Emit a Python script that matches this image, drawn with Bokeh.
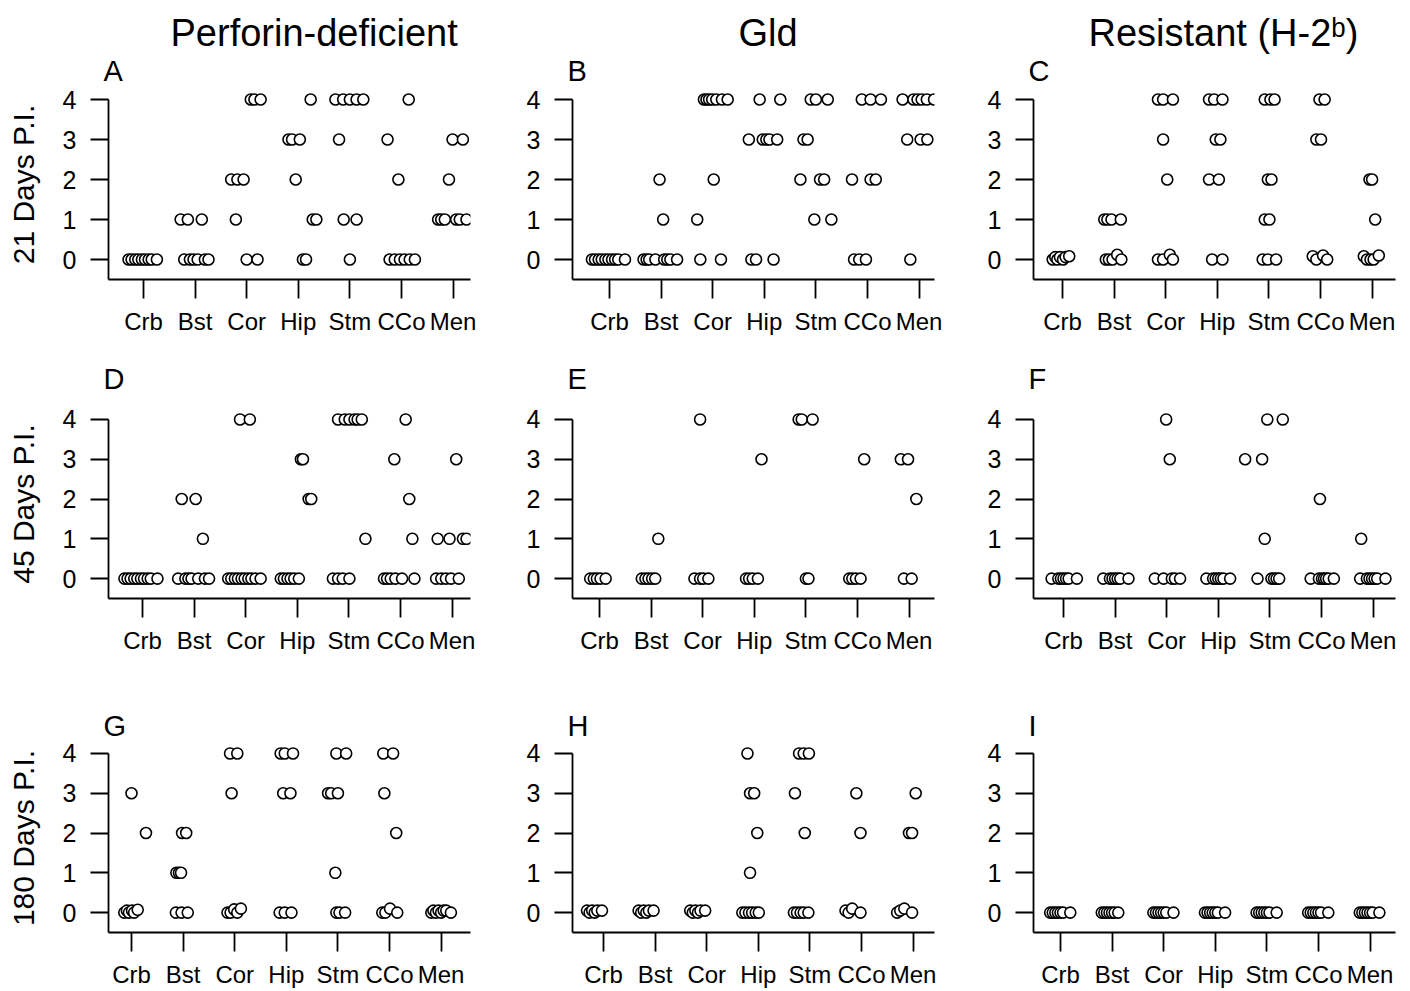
import math
from bokeh.plotting import figure
from bokeh.layouts import column, row
from bokeh.models import Title, FixedTicker, ColumnDataSource, Range1d
from bokeh.embed import file_html
from bokeh.resources import INLINE

FONT = "Liberation Sans"

# ---------------- data ----------------
ORGANS = ["Crb", "Bst", "Cor", "Hip", "Stm", "CCo", "Men"]
SCORE_TICKS = [0, 1, 2, 3, 4]
STRAINS = ["Perforin-deficient", "Gld", "Resistant (H-2\u1d47)"]
DAYS = ["21 Days P.I.", "45 Days P.I.", "180 Days P.I."]
LETTERS = ["A", "B", "C", "D", "E", "F", "G", "H", "I"]

# each entry: (organ, score, x-jitter of each animal [, y-jitter of each animal])
A = [
    ("Crb", 0, [-0.29, -0.23, -0.16, -0.10, -0.03, 0.03, 0.10, 0.16, 0.26]),
    ("Bst", 1, [-0.28, -0.14, 0.13]),
    ("Bst", 0, [-0.21, -0.10, -0.03, 0.05, 0.19, 0.26]),
    ("Cor", 4, [0.08, 0.15, 0.27]),
    ("Cor", 2, [-0.30, -0.18, -0.06]),
    ("Cor", 1, [-0.21]),
    ("Cor", 0, [0.0, 0.21]),
    ("Hip", 4, [0.24]),
    ("Hip", 3, [-0.19, -0.12, 0.03]),
    ("Hip", 2, [-0.05]),
    ("Hip", 1, [0.28, 0.35]),
    ("Hip", 0, [0.09, 0.15]),
    ("Stm", 4, [-0.28, -0.13, 0.0, 0.13, 0.26]),
    ("Stm", 3, [-0.21]),
    ("Stm", 1, [-0.12, 0.13]),
    ("Stm", 0, [0.0]),
    ("CCo", 4, [0.14]),
    ("CCo", 3, [-0.27]),
    ("CCo", 2, [-0.06]),
    ("CCo", 0, [-0.23, -0.13, -0.03, 0.06, 0.16, 0.26]),
    ("Men", 3, [-0.01, 0.19]),
    ("Men", 2, [-0.08]),
    ("Men", 1, [-0.29, -0.23, -0.16, 0.06, 0.13, 0.26]),
]
B = [
    ("Crb", 0, [-0.34, -0.28, -0.21, -0.15, -0.08, -0.02, 0.05, 0.11, 0.17, 0.30]),
    ("Bst", 2, [-0.03]),
    ("Bst", 1, [0.04]),
    ("Bst", 0, [-0.34, -0.28, -0.23, -0.11, 0.06, 0.12, 0.18, 0.31]),
    ("Cor", 4, [-0.17, -0.12, -0.07, -0.01, 0.07, 0.18, 0.29]),
    ("Cor", 2, [0.02]),
    ("Cor", 1, [-0.30]),
    ("Cor", 0, [-0.24, 0.16]),
    ("Hip", 4, [-0.09, 0.31]),
    ("Hip", 3, [-0.30, -0.03, 0.04, 0.10, 0.25]),
    ("Hip", 0, [-0.25, -0.16, 0.18]),
    ("Stm", 4, [-0.10, 0.0, 0.23]),
    ("Stm", 3, [-0.24, -0.16]),
    ("Stm", 2, [-0.30, 0.08, 0.16]),
    ("Stm", 1, [-0.03, 0.30]),
    ("CCo", 4, [-0.11, 0.06, 0.26]),
    ("CCo", 2, [-0.30, 0.06, 0.16]),
    ("CCo", 0, [-0.26, -0.16, -0.03]),
    ("Men", 4, [-0.32, -0.11, -0.03, 0.05, 0.15, 0.29]),
    ("Men", 3, [-0.23, 0.03, 0.16]),
    ("Men", 0, [-0.17]),
]
C = [
    ("Crb", 0, [-0.19, -0.14, -0.10, -0.05, 0.01, 0.06, 0.13], [0, 0.06, 0, 0.06, 0, 0.06, 0.08]),
    ("Bst", 1, [-0.19, -0.13, -0.05, 0.13]),
    ("Bst", 0, [-0.16, -0.10, -0.03, 0.06, 0.14], [0, 0, 0, 0.12, 0]),
    ("Cor", 4, [-0.15, -0.05, 0.14]),
    ("Cor", 3, [-0.05]),
    ("Cor", 2, [0.03]),
    ("Cor", 0, [-0.15, -0.05, 0.08, 0.14], [0, 0, 0.12, 0]),
    ("Hip", 4, [-0.16, -0.06, 0.10]),
    ("Hip", 3, [-0.03, 0.06]),
    ("Hip", 2, [-0.16, 0.03]),
    ("Hip", 0, [-0.10, 0.10]),
    ("Stm", 4, [-0.08, 0.03, 0.11]),
    ("Stm", 2, [-0.02, 0.05]),
    ("Stm", 1, [-0.08, 0.01]),
    ("Stm", 0, [-0.12, -0.02, 0.14]),
    ("CCo", 4, [-0.02, 0.08]),
    ("CCo", 3, [-0.08, 0.01]),
    ("CCo", 0, [-0.15, -0.08, 0.05, 0.13], [0.08, 0, 0.1, 0]),
    ("Men", 2, [-0.05, 0.0]),
    ("Men", 1, [0.06]),
    ("Men", 0, [-0.16, -0.10, -0.03, 0.03, 0.13], [0.08, 0, 0, 0, 0.1]),
]
D = [
    ("Crb", 0, [-0.35, -0.29, -0.23, -0.16, -0.10, -0.03, 0.03, 0.10, 0.16, 0.29]),
    ("Bst", 2, [-0.24, 0.03]),
    ("Bst", 1, [0.17]),
    ("Bst", 0, [-0.31, -0.17, -0.11, -0.05, 0.08, 0.21, 0.29]),
    ("Cor", 4, [-0.11, 0.08]),
    ("Cor", 0, [-0.34, -0.28, -0.21, -0.15, -0.08, -0.02, 0.05, 0.11, 0.19, 0.29]),
    ("Hip", 3, [0.07, 0.11]),
    ("Hip", 2, [0.22, 0.27]),
    ("Hip", 0, [-0.32, -0.26, -0.19, -0.13, -0.06, 0.03]),
    ("Stm", 4, [-0.21, -0.08, 0.01, 0.11, 0.17, 0.25]),
    ("Stm", 1, [0.32]),
    ("Stm", 0, [-0.31, -0.21, -0.12, 0.01]),
    ("CCo", 4, [0.10]),
    ("CCo", 3, [-0.12]),
    ("CCo", 2, [0.17]),
    ("CCo", 1, [0.23]),
    ("CCo", 0, [-0.32, -0.26, -0.19, -0.10, 0.03, 0.27]),
    ("Men", 3, [0.08]),
    ("Men", 1, [-0.28, -0.05, 0.21, 0.28]),
    ("Men", 0, [-0.31, -0.21, -0.12, -0.02, 0.13]),
]
E = [
    ("Crb", 0, [-0.18, -0.11, -0.05, 0.02, 0.12]),
    ("Bst", 1, [0.14]),
    ("Bst", 0, [-0.18, -0.11, -0.05, 0.02, 0.08]),
    ("Cor", 4, [-0.05]),
    ("Cor", 0, [-0.16, -0.05, 0.01, 0.11]),
    ("Hip", 3, [0.14]),
    ("Hip", 0, [-0.16, -0.10, -0.03, 0.07]),
    ("Stm", 4, [-0.14, -0.08, 0.13]),
    ("Stm", 0, [0.0, 0.05]),
    ("CCo", 3, [0.13]),
    ("CCo", 0, [-0.16, -0.10, -0.03, 0.06]),
    ("Men", 3, [-0.16, -0.02]),
    ("Men", 2, [0.14]),
    ("Men", 0, [-0.10, 0.05]),
]
F = [
    ("Crb", 0, [-0.23, -0.10, -0.05, 0.0, 0.05, 0.10, 0.26]),
    ("Bst", 0, [-0.23, -0.10, -0.05, 0.0, 0.05, 0.10, 0.26]),
    ("Cor", 4, [-0.01]),
    ("Cor", 3, [0.06]),
    ("Cor", 0, [-0.23, -0.06, 0.10, 0.16, 0.26]),
    ("Hip", 0, [-0.23, -0.10, -0.05, 0.0, 0.05, 0.10, 0.23]),
    ("Stm", 4, [-0.05, 0.25]),
    ("Stm", 3, [-0.48, -0.15]),
    ("Stm", 1, [-0.10]),
    ("Stm", 0, [-0.24, 0.03, 0.08, 0.13, 0.18]),
    ("CCo", 2, [-0.03]),
    ("CCo", 0, [-0.21, -0.05, 0.01, 0.05, 0.09, 0.14, 0.24]),
    ("Men", 1, [-0.23]),
    ("Men", 0, [-0.25, -0.12, -0.07, -0.02, 0.03, 0.08, 0.24]),
]
G = [
    ("Crb", 3, [0.0]),
    ("Crb", 2, [0.28]),
    ("Crb", 0, [-0.14, -0.09, -0.05, 0.01, 0.05, 0.12], [0, 0.05, 0, 0.05, 0, 0.07]),
    ("Bst", 2, [-0.02, 0.06]),
    ("Bst", 1, [-0.13, -0.08, -0.04]),
    ("Bst", 0, [-0.14, -0.03, 0.09]),
    ("Cor", 4, [-0.09, 0.05]),
    ("Cor", 3, [-0.06]),
    ("Cor", 0, [-0.14, -0.08, -0.01, 0.05, 0.12], [0, 0, 0.08, 0, 0.1]),
    ("Hip", 4, [-0.11, -0.03, 0.13]),
    ("Hip", 3, [-0.06, 0.08]),
    ("Hip", 0, [-0.13, -0.03, 0.10]),
    ("Stm", 4, [-0.03, 0.16]),
    ("Stm", 3, [-0.19, -0.13, 0.0]),
    ("Stm", 1, [-0.05]),
    ("Stm", 0, [-0.03, 0.03, 0.14]),
    ("CCo", 4, [-0.12, 0.07]),
    ("CCo", 3, [-0.10]),
    ("CCo", 2, [0.13]),
    ("CCo", 0, [-0.14, -0.08, 0.01, 0.15], [0, 0, 0.1, 0]),
    ("Men", 0, [-0.19, -0.15, -0.10, -0.05, 0.0, 0.05, 0.10, 0.19], [0, 0.05, 0, 0.05, 0, 0.05, 0.05, 0]),
]
H = [
    ("Crb", 0, [-0.32, -0.27, -0.22, -0.17, -0.12, -0.03], [0.05, 0, 0.05, 0, 0.05, 0.05]),
    ("Bst", 0, [-0.32, -0.27, -0.22, -0.17, -0.12, -0.03], [0.05, 0, 0.05, 0, 0.05, 0.05]),
    ("Cor", 0, [-0.32, -0.27, -0.22, -0.17, -0.12, -0.03], [0.05, 0, 0.05, 0, 0.05, 0.05]),
    ("Hip", 4, [-0.21]),
    ("Hip", 3, [-0.16, -0.08]),
    ("Hip", 2, [-0.02]),
    ("Hip", 1, [-0.16]),
    ("Hip", 0, [-0.31, -0.25, -0.18, -0.12, -0.05, 0.01]),
    ("Stm", 4, [-0.21, -0.12, -0.02]),
    ("Stm", 3, [-0.29]),
    ("Stm", 2, [-0.10]),
    ("Stm", 0, [-0.31, -0.25, -0.18, -0.12, -0.03]),
    ("CCo", 3, [-0.10]),
    ("CCo", 2, [-0.02]),
    ("CCo", 0, [-0.31, -0.25, -0.18, -0.02], [0.05, 0, 0.1, 0]),
    ("Men", 3, [0.05]),
    ("Men", 2, [-0.08, -0.02]),
    ("Men", 0, [-0.31, -0.25, -0.17, -0.02], [0, 0.05, 0.1, 0]),
]
I = [
    ("Crb", 0, [-0.20, -0.15, -0.10, -0.05, 0.0, 0.05, 0.19]),
    ("Bst", 0, [-0.20, -0.15, -0.10, -0.05, 0.0, 0.05, 0.12]),
    ("Cor", 0, [-0.20, -0.15, -0.10, -0.05, 0.0, 0.05, 0.19]),
    ("Hip", 0, [-0.20, -0.15, -0.10, -0.05, 0.0, 0.05, 0.19]),
    ("Stm", 0, [-0.20, -0.15, -0.10, -0.05, 0.0, 0.05, 0.19]),
    ("CCo", 0, [-0.20, -0.15, -0.10, -0.05, 0.0, 0.05, 0.19]),
    ("Men", 0, [-0.20, -0.15, -0.10, -0.05, 0.0, 0.05, 0.18]),
]

# ---------------- layout (pixels) ----------------
FRAME_W = 362
PX_X = 51.6                      # px per category step
COL_L = [108, 92, 89]            # left borders
COL_R = [10, 10, 12]             # right borders
ROW_T = [89, 72, 87]             # top borders
ROW_B = [57, 57, 57]             # bottom borders
ROW_H = [191, 190, 190]          # frame heights
Y0, Y1 = -0.5, 4.25
X_START = [[0.322, 0.283, 0.438], [0.341, 0.477, 0.419], [0.554, 0.399, 0.477]]
LETTER_STANDOFF = [6, 29, 3]
TITLE_OFFSET = [62, 166, 55]


def style_title(t, size):
    t.text_font = FONT
    t.text_font_size = size
    t.text_font_style = "normal"
    t.text_color = "black"


def make_panel(r, c, groups, letter):
    xs0 = X_START[r][c]
    w = COL_L[c] + FRAME_W + COL_R[c]
    h = ROW_T[r] + ROW_H[r] + ROW_B[r]
    p = figure(width=w, height=h, x_range=Range1d(xs0, xs0 + FRAME_W / PX_X),
               y_range=Range1d(Y0, Y1), output_backend="svg", toolbar_location=None,
               min_border_left=COL_L[c], min_border_right=COL_R[c],
               min_border_top=ROW_T[r], min_border_bottom=ROW_B[r])
    p.outline_line_color = None
    p.xgrid.visible = False
    p.ygrid.visible = False
    p.background_fill_color = "white"
    p.border_fill_color = "white"

    xs, ys = [], []
    for g in groups:
        organ, score, dxs = g[0], g[1], g[2]
        dys = g[3] if len(g) > 3 else [0] * len(dxs)
        for dx, dy in zip(dxs, dys):
            xs.append(ORGANS.index(organ) + 1 + dx)
            ys.append(score + dy)
    order = sorted(range(len(xs)), key=lambda i: xs[i])
    src = ColumnDataSource(dict(x=[xs[i] for i in order], y=[ys[i] for i in order]))
    p.scatter("x", "y", source=src, marker="circle", size=11,
              fill_color="white", line_color="black", line_width=1.6)

    xa = p.xaxis[0]
    xa.ticker = FixedTicker(ticks=list(range(1, len(ORGANS) + 1)))
    xa.major_label_overrides = {i + 1: o for i, o in enumerate(ORGANS)}
    xa.major_tick_in = 0
    xa.major_tick_out = 19
    xa.major_label_standoff = 9
    ya = p.yaxis[0]
    ya.ticker = FixedTicker(ticks=SCORE_TICKS)
    ya.bounds = (Y0, 4)
    ya.major_tick_in = 0
    ya.major_tick_out = 18
    ya.major_label_standoff = 14
    for ax in (xa, ya):
        ax.minor_tick_line_color = None
        ax.axis_line_width = 1.8
        ax.axis_line_color = "black"
        ax.major_tick_line_width = 1.8
        ax.major_tick_line_color = "black"
        ax.major_label_text_font = FONT
        ax.major_label_text_color = "black"
    xa.major_label_text_font_size = "24px"
    ya.major_label_text_font_size = "25px"

    # row label
    if c == 0:
        ya.axis_label = DAYS[r]
        ya.axis_label_text_font = FONT
        ya.axis_label_text_font_size = "30px"
        ya.axis_label_text_font_style = "normal"
        ya.axis_label_text_color = "black"
        ya.axis_label_standoff = 20

    if r == 0:
        # column title (outermost band), then the panel letter next to the frame
        p.title.text = STRAINS[c]
        p.title.align = "left"
        p.title.offset = TITLE_OFFSET[c]
        p.title.standoff = -8
        style_title(p.title, "38px")
        lt = Title(text=letter, align="left", offset=-5, standoff=LETTER_STANDOFF[r])
        style_title(lt, "29px")
        p.add_layout(lt, "above")
    else:
        p.title.text = letter
        p.title.align = "left"
        p.title.offset = -5
        p.title.standoff = LETTER_STANDOFF[r]
        style_title(p.title, "29px")
    return p


PANELS = [[A, B, C], [D, E, F], [G, H, I]]
rows = []
for r in range(3):
    figs = [make_panel(r, c, PANELS[r][c], LETTERS[3 * r + c]) for c in range(3)]
    rows.append(row(*figs))
layout = column(*rows)

open("out.html", "w").write(file_html(layout, INLINE))
